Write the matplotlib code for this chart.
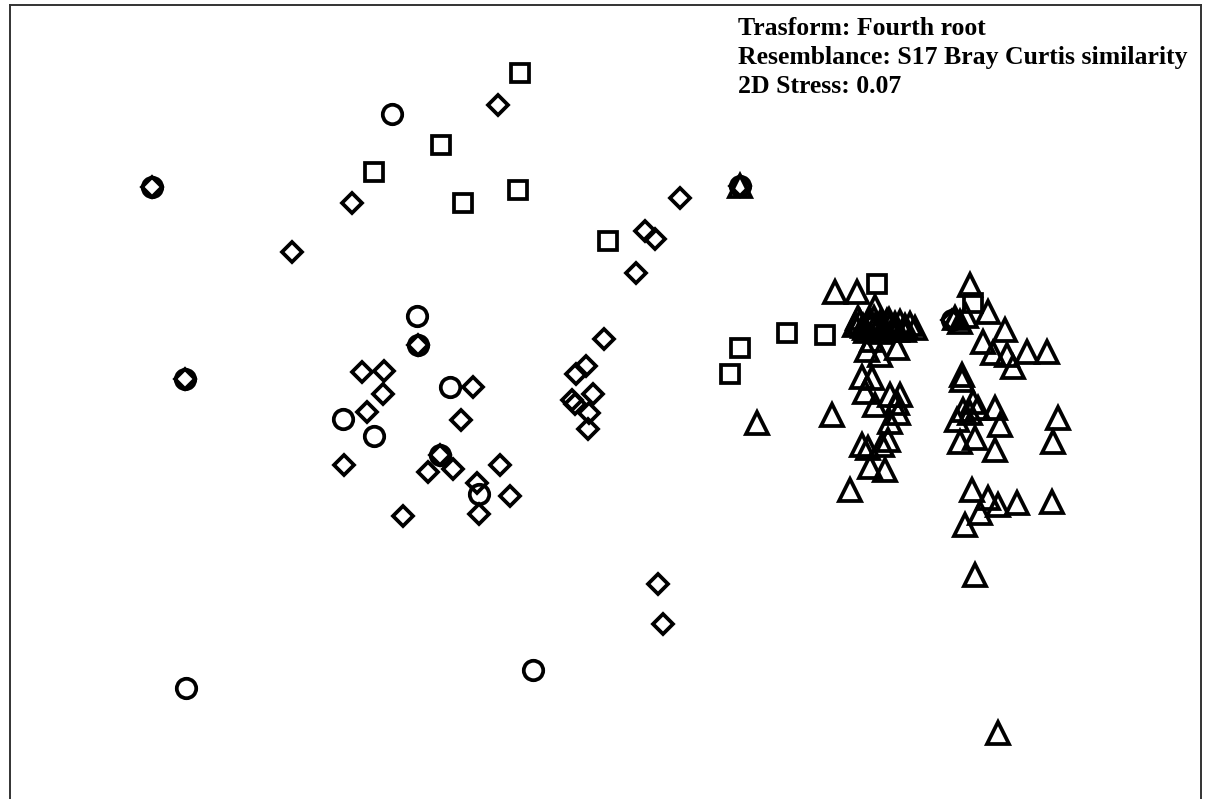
import matplotlib
matplotlib.use("Agg")
import matplotlib.pyplot as plt

# NMDS ordination coordinates (arbitrary units; y grows downward)
circle_x = [392, 152, 185, 417, 418, 450, 343, 374, 440, 479, 186, 533, 740, 952]
circle_y = [114, 187, 379, 316, 345, 387, 419, 436, 455, 494, 688, 670, 186, 320]

diamond_x = [498, 352, 292, 152, 185, 418, 362, 384, 383, 367, 473, 461, 344, 440,
             428, 453, 500, 477, 510, 403, 479,
             680, 645, 655, 636, 604, 586, 576, 593, 572, 575, 589, 588, 658, 663, 740, 952]
diamond_y = [105, 203, 252, 187, 379, 345, 372, 371, 394, 412, 387, 420, 465, 455,
             472, 469, 465, 483, 496, 516, 514,
             198, 231, 239, 273, 339, 366, 374, 394, 400, 404, 413, 429, 584, 624, 186, 320]

square_x = [520, 441, 374, 518, 463, 608, 787, 740, 730, 877, 825, 973]
square_y = [73, 145, 172, 190, 203, 241, 333, 348, 374, 284, 335, 303]

triangle_x = [740, 757, 835, 857, 875,
              855, 860, 865, 870, 875, 880, 885, 890, 895, 900, 905, 910, 915,
              858, 866, 874, 881, 889, 897, 904, 863, 871, 879, 887, 895,
              867, 880, 897, 872,
              970, 955, 960, 988, 1005, 983, 993, 1007, 1027, 1047, 1013, 966,
              862, 872, 865, 832, 875, 890, 900, 897, 898, 890, 888, 862, 868, 882, 870, 885, 850,
              962, 962, 973, 978, 963, 995, 957, 970, 1000, 960, 975, 995, 1058, 1053,
              972, 988, 998, 1017, 1052, 980, 965, 975, 998]
triangle_y = [186, 423, 292, 292, 307,
              325, 322, 328, 320, 326, 323, 329, 325, 327, 322, 326, 324, 328,
              318, 331, 318, 332, 320, 330, 330, 326, 323, 327, 321, 324,
              350, 355, 348, 340,
              285, 318, 322, 312, 330, 342, 353, 355, 352, 352, 367, 316,
              377, 378, 392, 415, 405, 395, 395, 403, 413, 422, 440, 445, 448, 445, 467, 470, 490,
              375, 380, 402, 408, 410, 408, 420, 413, 425, 442, 438, 450, 418, 442,
              490, 498, 505, 503, 502, 513, 525, 575, 733]

annotation_lines = ["Trasform: Fourth root",
                    "Resemblance: S17 Bray Curtis similarity",
                    "2D Stress: 0.07"]

W, H = 1207, 799
fig = plt.figure(figsize=(W / 100, H / 100), dpi=100)
left_px, right_px, top_px, bottom_px = 10, 1201, 5, 810
ax = fig.add_axes([left_px / W, 1 - bottom_px / H,
                   (right_px - left_px) / W, (bottom_px - top_px) / H])
ax.set_xlim(left_px, right_px)
ax.set_ylim(bottom_px, top_px)
ax.set_xticks([])
ax.set_yticks([])
for s in ax.spines.values():
    s.set_linewidth(1.4)
    s.set_color("#333333")

lw = 2.7
ax.plot(square_x, square_y, marker="s", linestyle="none", markersize=12.5,
        markerfacecolor="none", markeredgecolor="black", markeredgewidth=lw)
ax.plot(circle_x, circle_y, marker="o", markersize=14, markerfacecolor="none",
        linestyle="none", markeredgecolor="black", markeredgewidth=lw)
ax.plot(diamond_x, diamond_y, marker="D", markersize=10.5, markerfacecolor="none",
        linestyle="none", markeredgecolor="black", markeredgewidth=lw)
ax.plot(triangle_x, triangle_y, marker="^", markersize=16, markerfacecolor="none",
        linestyle="none", markeredgecolor="black", markeredgewidth=lw)

baselines_px = [35, 64, 93]
for line, b in zip(annotation_lines, baselines_px):
    fig.text(738 / W, 1 - b / H, line, ha="left", va="baseline", fontsize=18.5,
             fontweight="bold", family="Liberation Serif")

fig.savefig("out.png", dpi=100)
